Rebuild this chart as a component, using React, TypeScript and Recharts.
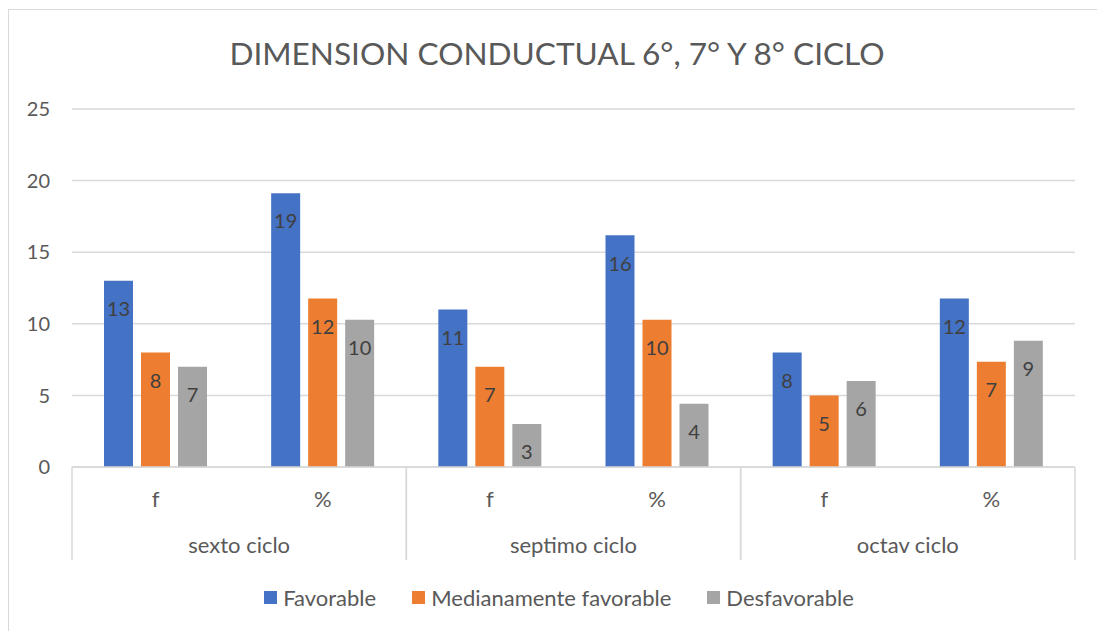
import { Bar, BarChart, CartesianGrid, LabelList, Legend, XAxis, YAxis } from "recharts";

const subLabels = ["f", "%", "f", "%", "f", "%"];
const cycles = ["sexto ciclo", "sexto ciclo", "septimo ciclo", "septimo ciclo", "octav ciclo", "octav ciclo"];
const favorable = [13, 19.12, 11, 16.18, 8, 11.76];
const medianamente = [8, 11.76, 7, 10.29, 5, 7.35];
const desfavorable = [7, 10.29, 3, 4.41, 6, 8.82];
const yTicks = [0, 5, 10, 15, 20, 25];

const seriesKeys = ["favorable", "medianamente", "desfavorable"];
const seriesNames = ["Favorable", "Medianamente favorable", "Desfavorable"];
const seriesColors = ["#4472C4", "#ED7D31", "#A5A5A5"];

const data = subLabels.map((sub, i) => ({
  sub,
  group: cycles[i],
  favorable: favorable[i],
  medianamente: medianamente[i],
  desfavorable: desfavorable[i],
}));

const font = "Lato, 'Open Sans', sans-serif";
const textColor = "#595959";
const gridColor = "#d9d9d9";

const SubTick = (props: any) => {
  const { x, y, payload } = props;
  return (
    <text x={x} y={y} dy={40} textAnchor="middle" fontFamily={font} fontSize={22} fill={textColor}>
      {payload.value}
    </text>
  );
};

const GroupTick = (props: any) => {
  const { x, y, payload } = props;
  const half = payload.offset || 167.17;
  return (
    <g>
      <line x1={x - half} x2={x - half} y1={y - 46} y2={y + 47} stroke={gridColor} strokeWidth={1.5} />
      <line x1={x + half} x2={x + half} y1={y - 46} y2={y + 47} stroke={gridColor} strokeWidth={1.5} />
      <text x={x} y={y} dy={40} textAnchor="middle" fontFamily={font} fontSize={22} fill={textColor}>
        {payload.value}
      </text>
    </g>
  );
};

const renderLegend = () => (
  <div
    style={{
      display: "flex",
      justifyContent: "center",
      alignItems: "center",
      gap: 36,
      height: 28,
      fontFamily: font,
      fontSize: 22,
      color: textColor,
      paddingLeft: 12,
    }}
  >
    {seriesNames.map((name, i) => (
      <div key={name} style={{ display: "flex", alignItems: "center" }}>
        <span style={{ display: "inline-block", width: 13, height: 13, background: seriesColors[i], marginRight: 6 }} />
        {name}
      </div>
    ))}
  </div>
);

export default function App() {
  return (
    <>
      <style>{"html { overflow: hidden; }"}</style>
      <div
        style={{
          position: "absolute",
          left: 8,
          top: 9,
          width: 1100,
          height: 640,
          borderTop: "1px solid #d9d9d9",
          borderLeft: "1px solid #d9d9d9",
          background: "#fff",
        }}
      >
        <BarChart
          width={1088}
          height={621}
          data={data}
          margin={{ top: 99, right: 22, left: 23, bottom: 71 }}
          barGap={8}
          barCategoryGap={32}
        >
          <text x={548} y={55} textAnchor="middle" fontFamily={font} fontSize={31.6} fill={textColor}>
            DIMENSION CONDUCTUAL 6°, 7° Y 8° CICLO
          </text>
          <CartesianGrid vertical={false} stroke={gridColor} strokeWidth={1.5} />
          <XAxis
            dataKey="sub"
            height={46}
            axisLine={{ stroke: gridColor, strokeWidth: 1.5 }}
            tickLine={false}
            tickSize={0}
            tickMargin={0}
            tick={<SubTick />}
            interval={0}
          />
          <XAxis
            xAxisId="grp"
            dataKey="group"
            allowDuplicatedCategory={false}
            height={47}
            axisLine={false}
            tickLine={false}
            tickSize={0}
            tickMargin={0}
            tick={<GroupTick />}
            interval={0}
          />
          <YAxis
            domain={[0, 25]}
            ticks={yTicks}
            width={40}
            axisLine={false}
            tickLine={false}
            tickSize={0}
            tickMargin={22}
            tick={{ fontFamily: font, fontSize: 20, fill: textColor }}
          />
          <Legend
            verticalAlign="middle"
            align="center"
            layout="horizontal"
            wrapperStyle={{ top: 573, left: 0, width: 1088 }}
            content={renderLegend}
          />
          {seriesKeys.map((key, i) => (
            <Bar key={key} dataKey={key} name={seriesNames[i]} fill={seriesColors[i]} isAnimationActive={false}>
              <LabelList
                dataKey={key}
                position="insideTop"
                offset={21}
                formatter={(v: any) => Math.round(Number(v))}
                style={{ fontFamily: font, fontSize: 20, fill: "#404040" }}
              />
            </Bar>
          ))}
        </BarChart>
      </div>
    </>
  );
}
